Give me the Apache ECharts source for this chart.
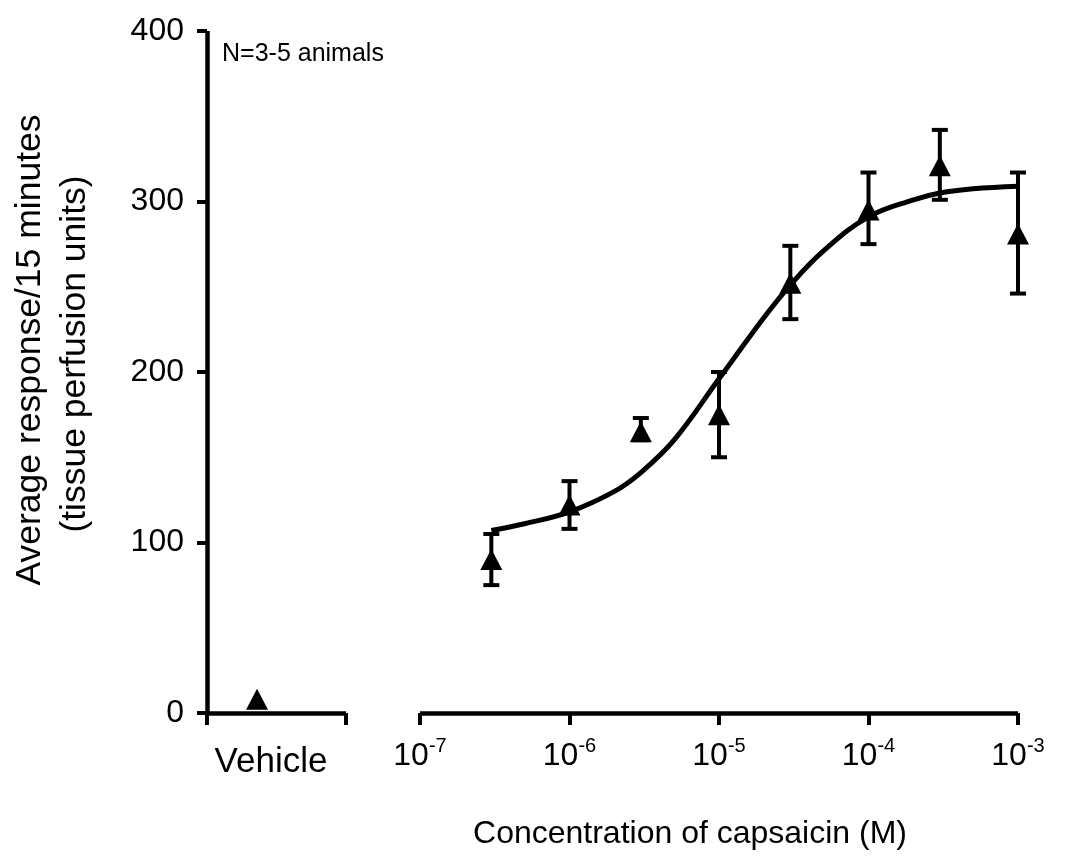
<!DOCTYPE html>
<html>
<head>
<meta charset="utf-8">
<script src="https://cdn.jsdelivr.net/npm/echarts@6/dist/echarts.min.js"></script>
<style>
html,body{margin:0;padding:0;background:#fff;}
#chart{width:1066px;height:863px;}
</style>
</head>
<body>
<div id="chart"></div>
<script>
// ---- data ----
const yTicks = [0, 100, 200, 300, 400];
const tickExponents = [-7, -6, -5, -4, -3];
const vehicleLabel = 'Vehicle';
const xTitle = 'Concentration of capsaicin (M)';
const yTitle1 = 'Average response/15 minutes';
const yTitle2 = '(tissue perfusion units)';
const noteText = 'N=3-5 animals';

const vehicleX = [0.36];
const vehicleY = [8];

const conc    = [3e-7, 1e-6, 3e-6, 1e-5, 3e-5, 1e-4, 3e-4, 1e-3];
const meanY   = [90,   122,  165,  175,  252,  295,  321,  281];
const errLow  = [75,   108,  160,  150,  231,  275,  301,  246];
const errHigh = [105,  136,  173,  200,  274,  317,  342,  317];

const curveConc = [3e-7, 5e-7, 1e-6, 2e-6, 3e-6, 5e-6, 1e-5, 2e-5, 3e-5, 5e-5, 1e-4, 2e-4, 3e-4, 5e-4, 1e-3];
const curveY    = [107,  111,  118,  130,  141,  160,  196,  232,  251,  271,  291,  301,  305,  307.5, 309];

// ---- chart ----
const FONT = '"Liberation Sans", Arial, Helvetica, sans-serif';
const AX = {color: '#000', width: 4.5, cap: 'butt'};

const chart = echarts.init(document.getElementById('chart'), null, {renderer: 'canvas'});

const errData = conc.map((c, i) => [c, errLow[i], errHigh[i]]);

function renderErr(params, api) {
  const x = api.value(0), lo = api.value(1), hi = api.value(2);
  const pLo = api.coord([x, lo]);
  const pHi = api.coord([x, hi]);
  const cap = 8;
  const st = {stroke: '#000', lineWidth: 4, lineCap: 'butt'};
  return {
    type: 'group',
    children: [
      {type: 'line', shape: {x1: pLo[0], y1: pLo[1], x2: pHi[0], y2: pHi[1]}, style: st},
      {type: 'line', shape: {x1: pLo[0] - cap, y1: pLo[1], x2: pLo[0] + cap, y2: pLo[1]}, style: st},
      {type: 'line', shape: {x1: pHi[0] - cap, y1: pHi[1], x2: pHi[0] + cap, y2: pHi[1]}, style: st}
    ]
  };
}

const option = {
  backgroundColor: '#fff',
  animation: false,
  textStyle: {fontFamily: FONT, color: '#000'},
  grid: [
    {left: 207, top: 31, width: 139, height: 682},
    {left: 420, top: 31, width: 598, height: 682}
  ],
  xAxis: [
    {
      type: 'value', gridIndex: 0, min: 0, max: 1, interval: 1,
      axisLine: {lineStyle: AX},
      axisTick: {show: true, inside: false, length: 12, lineStyle: {color: '#000', width: 4}},
      axisLabel: {show: false},
      splitLine: {show: false}
    },
    {
      type: 'log', gridIndex: 1, min: 1e-7, max: 1e-3, logBase: 10,
      axisLine: {lineStyle: AX},
      axisTick: {show: true, inside: false, length: 12, lineStyle: {color: '#000', width: 4}},
      minorTick: {show: false},
      splitLine: {show: false},
      axisLabel: {
        margin: 23,
        formatter: function (v) {
          const e = Math.round(Math.log10(v));
          if (tickExponents.indexOf(e) < 0) return '';
          return '{b|10}{s|' + e + '}';
        },
        rich: {
          b: {fontSize: 32, fontFamily: FONT, color: '#000', lineHeight: 36, verticalAlign: 'bottom'},
          s: {fontSize: 20, fontFamily: FONT, color: '#000', lineHeight: 21, verticalAlign: 'top'}
        }
      }
    }
  ],
  yAxis: [
    {
      type: 'value', gridIndex: 0, min: yTicks[0], max: yTicks[yTicks.length - 1], interval: 100,
      axisLine: {lineStyle: AX},
      axisTick: {show: true, inside: false, length: 10, lineStyle: {color: '#000', width: 4}},
      axisLabel: {fontSize: 32, color: '#000', margin: 23, fontFamily: FONT},
      splitLine: {show: false}
    },
    {
      type: 'value', gridIndex: 1, min: yTicks[0], max: yTicks[yTicks.length - 1], interval: 100,
      show: false, splitLine: {show: false}
    }
  ],
  graphic: [
    {type: 'text', left: 222, top: 42, style: {text: noteText, fontSize: 25, fontFamily: FONT, fill: '#000'}},
    {type: 'text', x: 271, y: 762, style: {text: vehicleLabel, fontSize: 35, fontFamily: FONT, fill: '#000', align: 'center', verticalAlign: 'middle'}},
    {type: 'text', x: 690, y: 834, style: {text: xTitle, fontSize: 32, fontFamily: FONT, fill: '#000', align: 'center', verticalAlign: 'middle'}},
    {type: 'text', x: 30, y: 350, rotation: Math.PI / 2, style: {text: yTitle1, fontSize: 35.5, fontFamily: FONT, fill: '#000', align: 'center', verticalAlign: 'middle'}},
    {type: 'text', x: 75, y: 354, rotation: Math.PI / 2, style: {text: yTitle2, fontSize: 35.5, fontFamily: FONT, fill: '#000', align: 'center', verticalAlign: 'middle'}}
  ],
  series: [
    {
      name: 'fit', type: 'line', xAxisIndex: 1, yAxisIndex: 1,
      data: curveConc.map((c, i) => [c, curveY[i]]),
      smooth: 0.4, showSymbol: false, symbol: 'none',
      lineStyle: {color: '#000', width: 5}, z: 2
    },
    {
      name: 'err', type: 'custom', xAxisIndex: 1, yAxisIndex: 1,
      data: errData, renderItem: renderErr, z: 3
    },
    {
      name: 'capsaicin', type: 'scatter', xAxisIndex: 1, yAxisIndex: 1,
      data: conc.map((c, i) => [c, meanY[i]]),
      symbol: 'triangle', symbolSize: [22, 21],
      itemStyle: {color: '#000', opacity: 1}, z: 4
    },
    {
      name: 'vehicle', type: 'scatter', xAxisIndex: 0, yAxisIndex: 0,
      data: vehicleX.map((x, i) => [x, vehicleY[i]]),
      symbol: 'triangle', symbolSize: [22, 21],
      itemStyle: {color: '#000', opacity: 1}, z: 4
    }
  ]
};
chart.setOption(option);
</script>
</body>
</html>
